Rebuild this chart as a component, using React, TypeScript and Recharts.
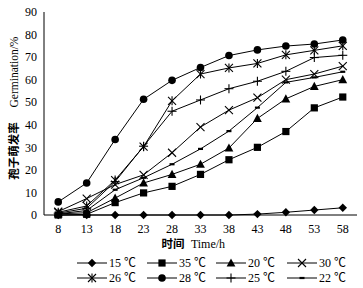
import React from 'react';
import { LineChart, Line, XAxis, YAxis, Legend, Label } from 'recharts';

const times = [8, 13, 18, 23, 28, 33, 38, 43, 48, 53, 58];
const yTicks = [0, 10, 20, 30, 40, 50, 60, 70, 80, 90];
const xBoundaryTicks = [10.5, 15.5, 20.5, 25.5, 30.5, 35.5, 40.5, 45.5, 50.5, 55.5, 60.5];

const t15 = [0, 0, 0, 0, 0, 0, 0, 0.4, 1.2, 2.2, 3.2];
const t35 = [0, 0.3, 5.5, 9.8, 12.7, 18, 24.5, 30, 37, 47.5, 52.3];
const t20 = [0.5, 1, 7.5, 14.2, 18, 22.5, 29.7, 42.8, 51.5, 57, 60];
const t30 = [1.5, 7.3, 13.5, 17.8, 27.6, 39, 46.5, 52, 60, 62.5, 66];
const t26 = [1.2, 4, 15.5, 30.3, 50.6, 62.5, 65.2, 67.2, 71, 73, 75];
const t28 = [5.8, 14.2, 33.5, 51.3, 59.7, 65.4, 70.7, 73.2, 74.9, 75.8, 77.6];
const t25 = [0.8, 3, 14.8, 30.5, 46, 51, 56, 59.3, 63.7, 69.8, 70.8];
const t22 = [0.5, 2, 11.2, 16.5, 22.5, 29.3, 37.2, 47.6, 58.8, 61, 63.5];

type Shape = 'diamond' | 'square' | 'triangle' | 'cross' | 'asterisk' | 'circle' | 'plus' | 'dash';

const series: { key: string; name: string; values: number[]; shape: Shape }[] = [
  { key: 's15', name: '15 ℃', values: t15, shape: 'diamond' },
  { key: 's35', name: '35 ℃', values: t35, shape: 'square' },
  { key: 's20', name: '20 ℃', values: t20, shape: 'triangle' },
  { key: 's30', name: '30 ℃', values: t30, shape: 'cross' },
  { key: 's26', name: '26 ℃', values: t26, shape: 'asterisk' },
  { key: 's28', name: '28 ℃', values: t28, shape: 'circle' },
  { key: 's25', name: '25 ℃', values: t25, shape: 'plus' },
  { key: 's22', name: '22 ℃', values: t22, shape: 'dash' },
];

const data = times.map((t, i) => {
  const row: Record<string, number> = { t };
  series.forEach((s) => {
    row[s.key] = s.values[i];
  });
  return row;
});

const FONT = '"Liberation Serif", "Noto Sans CJK SC", serif';
const CJK = '"Noto Sans CJK SC", sans-serif';

function Marker({ cx, cy, shape }: { cx: number; cy: number; shape: Shape }) {
  const st = { stroke: '#000', strokeWidth: 1.1, fill: 'none' };
  switch (shape) {
    case 'diamond':
      return <path d={`M${cx},${cy - 4.2}L${cx + 4.2},${cy}L${cx},${cy + 4.2}L${cx - 4.2},${cy}Z`} fill="#000" />;
    case 'square':
      return <rect x={cx - 3.6} y={cy - 3.6} width={7.2} height={7.2} fill="#000" />;
    case 'triangle':
      return <path d={`M${cx},${cy - 4.6}L${cx + 4.4},${cy + 3.6}L${cx - 4.4},${cy + 3.6}Z`} fill="#000" />;
    case 'cross':
      return (
        <g {...st}>
          <line x1={cx - 4} y1={cy - 4} x2={cx + 4} y2={cy + 4} />
          <line x1={cx - 4} y1={cy + 4} x2={cx + 4} y2={cy - 4} />
        </g>
      );
    case 'asterisk':
      return (
        <g {...st}>
          <line x1={cx - 4} y1={cy - 4} x2={cx + 4} y2={cy + 4} />
          <line x1={cx - 4} y1={cy + 4} x2={cx + 4} y2={cy - 4} />
          <line x1={cx} y1={cy - 4.5} x2={cx} y2={cy + 4.5} />
        </g>
      );
    case 'circle':
      return <circle cx={cx} cy={cy} r={3.8} fill="#000" />;
    case 'plus':
      return (
        <g {...st}>
          <line x1={cx - 4.5} y1={cy} x2={cx + 4.5} y2={cy} />
          <line x1={cx} y1={cy - 4.5} x2={cx} y2={cy + 4.5} />
        </g>
      );
    case 'dash':
    default:
      return <rect x={cx - 2.5} y={cy - 1.1} width={5} height={2.2} fill="#000" />;
  }
}

const legendCols = [77, 147, 216, 287];
const legendRows = [11, 26];

function LegendContent() {
  return (
    <svg width={363} height={34} style={{ display: 'block', overflow: 'visible' }}>
      {series.map((s, i) => {
        const x0 = legendCols[i % 4];
        const y0 = legendRows[Math.floor(i / 4)];
        return (
          <g key={s.key}>
            <line x1={x0} y1={y0} x2={x0 + 30} y2={y0} stroke="#000" strokeWidth={1} />
            <Marker cx={x0 + 15} cy={y0} shape={s.shape} />
            <text x={x0 + 32} y={y0 + 4} fontFamily={FONT} fontSize={12} fill="#000">
              {s.name}
            </text>
          </g>
        );
      })}
    </svg>
  );
}

export default function App() {
  return (
    <div style={{ position: 'absolute', left: 0, top: 0, background: '#fff' }}>
      <LineChart width={363} height={288} data={data} margin={{ top: 12, right: 6, bottom: 2, left: 0 }}>
        <XAxis
          xAxisId="a"
          dataKey="t"
          type="number"
          domain={[5.5, 60.5]}
          ticks={times}
          tickLine={false}
          tickSize={4}
          tickMargin={5}
          axisLine={{ stroke: '#000', strokeWidth: 1 }}
          tick={{ fontFamily: FONT, fontSize: 12, fill: '#000' }}
          height={37}
          interval={0}
        >
          <Label
            content={() => (
              <g>
                <text x={173} y={248} textAnchor="middle" fontFamily={CJK} fontWeight="bold" fontSize={11.5} fill="#000">
                  时间
                </text>
                <text x={208} y={248} textAnchor="middle" fontFamily={FONT} fontSize={12} fill="#000">
                  Time/h
                </text>
              </g>
            )}
          />
        </XAxis>
        <XAxis
          xAxisId="b"
          type="number"
          domain={[5.5, 60.5]}
          ticks={xBoundaryTicks}
          mirror
          tick={false}
          tickLine={{ stroke: '#000', strokeWidth: 1 }}
          tickSize={4}
          axisLine={false}
          interval={0}
        />
        <YAxis
          yAxisId="a"
          type="number"
          domain={[0, 90]}
          ticks={yTicks}
          tickLine={false}
          tickSize={4}
          tickMargin={3}
          width={44}
          axisLine={{ stroke: '#000', strokeWidth: 1 }}
          tick={{ fontFamily: FONT, fontSize: 12, fill: '#000' }}
          interval={0}
        >
          <Label
            content={() => (
              <g>
                <text
                  x={18}
                  y={151}
                  transform="rotate(-90 18 151)"
                  textAnchor="middle"
                  fontFamily={CJK}
                  fontWeight="bold"
                  fontSize={11.5}
                  fill="#000"
                >
                  孢子萌发率
                </text>
                <text
                  x={18}
                  y={72}
                  transform="rotate(-90 18 72)"
                  textAnchor="middle"
                  fontFamily={FONT}
                  fontSize={11.5}
                  fill="#000"
                >
                  Germination/%
                </text>
              </g>
            )}
          />
        </YAxis>
        <YAxis
          yAxisId="b"
          type="number"
          domain={[0, 90]}
          ticks={yTicks}
          mirror
          tick={false}
          tickLine={{ stroke: '#000', strokeWidth: 1 }}
          tickSize={4}
          axisLine={false}
          interval={0}
        />
        <Legend verticalAlign="bottom" content={() => <LegendContent />} />
        {series.map((s) => (
          <Line
            key={s.key}
            xAxisId="a"
            yAxisId="a"
            dataKey={s.key}
            name={s.name}
            stroke="#000"
            strokeWidth={1}
            isAnimationActive={false}
            dot={(p: any) => <Marker key={`${s.key}-${p.index}`} cx={p.cx} cy={p.cy} shape={s.shape} />}
            activeDot={false}
          />
        ))}
      </LineChart>
    </div>
  );
}
